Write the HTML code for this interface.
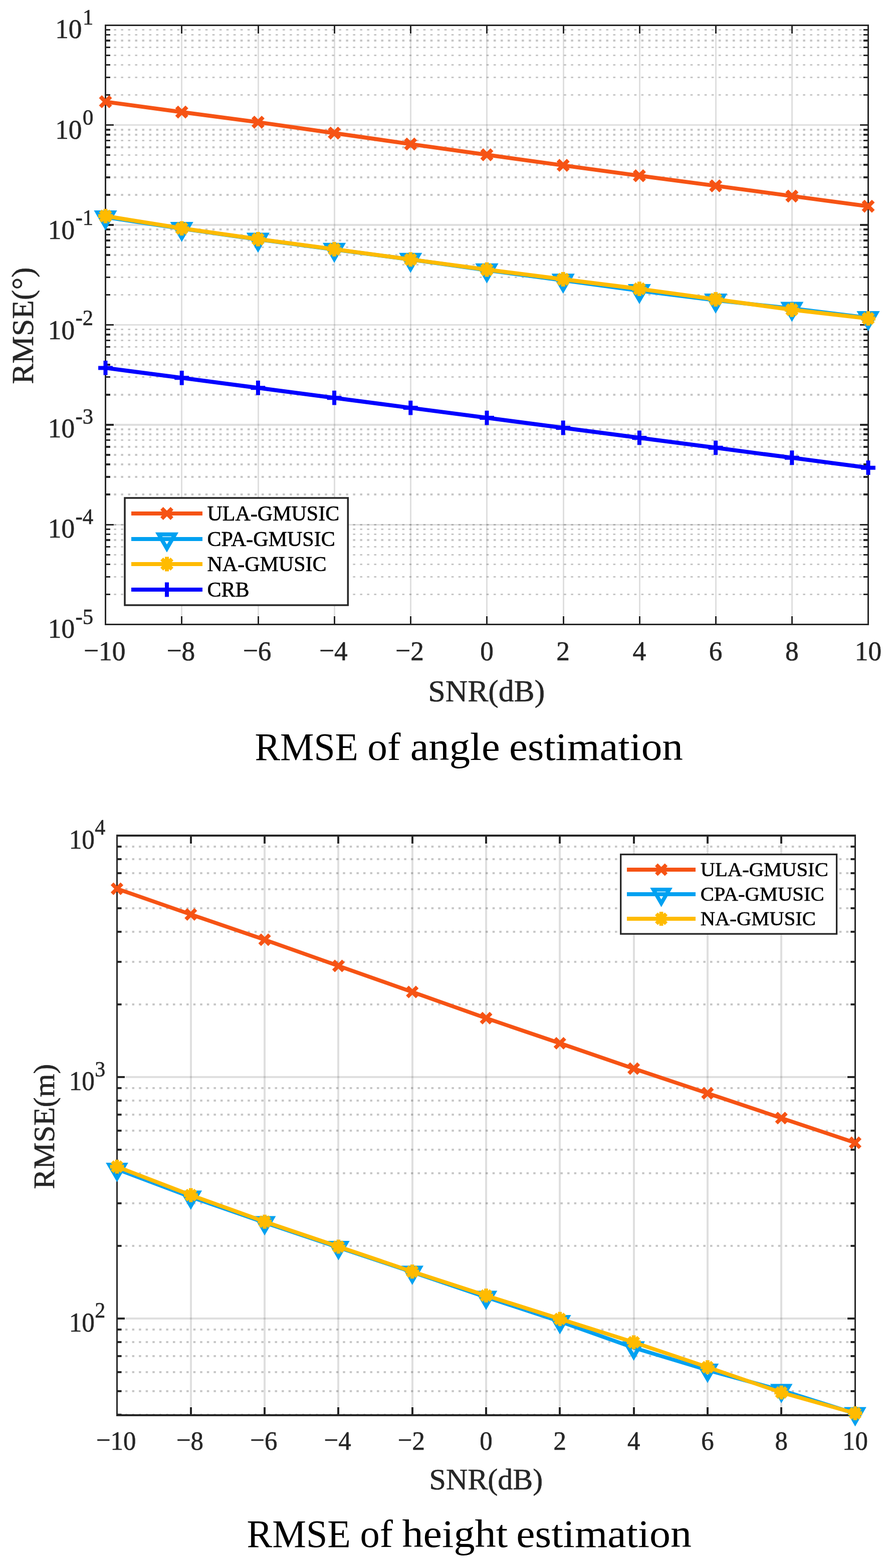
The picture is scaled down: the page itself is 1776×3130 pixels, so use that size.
<!DOCTYPE html>
<html lang="en"><head><meta charset="utf-8"><title>RMSE of angle and height estimation</title>
<style>html,body{margin:0;padding:0;background:#fff}body{width:1776px;height:3130px;overflow:hidden}svg{display:block}text{font-family:"Liberation Serif",serif;white-space:pre;stroke-width:0.6px;stroke-linejoin:round;paint-order:stroke}</style>
</head><body>
<svg width="1776" height="3130" viewBox="0 0 1776 3130" role="img" aria-label="RMSE of angle estimation and RMSE of height estimation versus SNR">
<rect width="1776" height="3130" fill="#fff"/>
<g id="fig1">
<g stroke="#262626" stroke-opacity="0.26" stroke-dasharray="4.6 9.43" stroke-dashoffset="-2.8" fill="none">
<path d="M210.5 59.5H1722" stroke-width="3"/>
<path d="M210.5 69.5H1722" stroke-width="3"/>
<path d="M210.5 81H1722" stroke-width="4"/>
<path d="M210.5 94.5H1722" stroke-width="3"/>
<path d="M210.5 110.5H1722" stroke-width="3"/>
<path d="M210.5 129.5H1722" stroke-width="3"/>
<path d="M210.5 154.5H1722" stroke-width="3"/>
<path d="M210.5 189.5H1722" stroke-width="3"/>
<path d="M210.5 259H1722" stroke-width="4"/>
<path d="M210.5 269H1722" stroke-width="4"/>
<path d="M210.5 280.5H1722" stroke-width="3"/>
<path d="M210.5 294H1722" stroke-width="4"/>
<path d="M210.5 309.5H1722" stroke-width="3"/>
<path d="M210.5 329H1722" stroke-width="4"/>
<path d="M210.5 354H1722" stroke-width="4"/>
<path d="M210.5 389H1722" stroke-width="4"/>
<path d="M210.5 458H1722" stroke-width="4"/>
<path d="M210.5 468.5H1722" stroke-width="3"/>
<path d="M210.5 480H1722" stroke-width="4"/>
<path d="M210.5 493.5H1722" stroke-width="3"/>
<path d="M210.5 509H1722" stroke-width="4"/>
<path d="M210.5 528.5H1722" stroke-width="3"/>
<path d="M210.5 553.5H1722" stroke-width="3"/>
<path d="M210.5 588.5H1722" stroke-width="3"/>
<path d="M210.5 657.5H1722" stroke-width="3"/>
<path d="M210.5 668H1722" stroke-width="4"/>
<path d="M210.5 679.5H1722" stroke-width="3"/>
<path d="M210.5 692.5H1722" stroke-width="3"/>
<path d="M210.5 708.5H1722" stroke-width="3"/>
<path d="M210.5 728H1722" stroke-width="4"/>
<path d="M210.5 752.5H1722" stroke-width="3"/>
<path d="M210.5 788H1722" stroke-width="4"/>
<path d="M210.5 857H1722" stroke-width="4"/>
<path d="M210.5 867H1722" stroke-width="4"/>
<path d="M210.5 878.5H1722" stroke-width="3"/>
<path d="M210.5 892H1722" stroke-width="4"/>
<path d="M210.5 908H1722" stroke-width="4"/>
<path d="M210.5 927H1722" stroke-width="4"/>
<path d="M210.5 952H1722" stroke-width="4"/>
<path d="M210.5 987H1722" stroke-width="4"/>
<path d="M210.5 1056.5H1722" stroke-width="3"/>
<path d="M210.5 1066.5H1722" stroke-width="3"/>
<path d="M210.5 1078H1722" stroke-width="4"/>
<path d="M210.5 1091.5H1722" stroke-width="3"/>
<path d="M210.5 1107.5H1722" stroke-width="3"/>
<path d="M210.5 1126.5H1722" stroke-width="3"/>
<path d="M210.5 1151.5H1722" stroke-width="3"/>
<path d="M210.5 1186.5H1722" stroke-width="3"/>
<path d="M210.5 1047.5H1722" stroke-width="3"/>
</g>
<g stroke="#262626" stroke-opacity="0.15" fill="none">
<path d="M362.5 68V1229" stroke-width="3"/>
<path d="M515.5 68V1229" stroke-width="3"/>
<path d="M667.5 68V1229" stroke-width="3"/>
<path d="M819.5 68V1229" stroke-width="3"/>
<path d="M971.5 68V1229" stroke-width="3"/>
<path d="M1124.5 68V1229" stroke-width="3"/>
<path d="M1276.5 68V1229" stroke-width="3"/>
<path d="M1428.5 68V1229" stroke-width="3"/>
<path d="M1580.5 68V1229" stroke-width="3"/>
<path d="M228 249.5H1715" stroke-width="3"/>
<path d="M228 449H1715" stroke-width="4"/>
<path d="M228 648.5H1715" stroke-width="3"/>
<path d="M228 848H1715" stroke-width="4"/>
<path d="M228 1047.5H1715" stroke-width="3"/>
</g>
<g stroke="#262626" fill="none">
<path d="M362.5 50.5V67M362.5 1246.5V1230" stroke-width="3"/>
<path d="M515.5 50.5V67M515.5 1246.5V1230" stroke-width="3"/>
<path d="M667.5 50.5V67M667.5 1246.5V1230" stroke-width="3"/>
<path d="M819.5 50.5V67M819.5 1246.5V1230" stroke-width="3"/>
<path d="M971.5 50.5V67M971.5 1246.5V1230" stroke-width="3"/>
<path d="M1124.5 50.5V67M1124.5 1246.5V1230" stroke-width="3"/>
<path d="M1276.5 50.5V67M1276.5 1246.5V1230" stroke-width="3"/>
<path d="M1428.5 50.5V67M1428.5 1246.5V1230" stroke-width="3"/>
<path d="M1580.5 50.5V67M1580.5 1246.5V1230" stroke-width="3"/>
<path d="M210.5 249.5H227M1732.5 249.5H1716" stroke-width="3"/>
<path d="M210.5 449H227M1732.5 449H1716" stroke-width="4"/>
<path d="M210.5 648.5H227M1732.5 648.5H1716" stroke-width="3"/>
<path d="M210.5 848H227M1732.5 848H1716" stroke-width="4"/>
<path d="M210.5 1047.5H227M1732.5 1047.5H1716" stroke-width="3"/>
<path d="M210.5 59.5H220M1732.5 59.5H1723" stroke-width="3"/>
<path d="M210.5 69.5H220M1732.5 69.5H1723" stroke-width="3"/>
<path d="M210.5 81H220M1732.5 81H1723" stroke-width="4"/>
<path d="M210.5 94.5H220M1732.5 94.5H1723" stroke-width="3"/>
<path d="M210.5 110.5H220M1732.5 110.5H1723" stroke-width="3"/>
<path d="M210.5 129.5H220M1732.5 129.5H1723" stroke-width="3"/>
<path d="M210.5 154.5H220M1732.5 154.5H1723" stroke-width="3"/>
<path d="M210.5 189.5H220M1732.5 189.5H1723" stroke-width="3"/>
<path d="M210.5 259H220M1732.5 259H1723" stroke-width="4"/>
<path d="M210.5 269H220M1732.5 269H1723" stroke-width="4"/>
<path d="M210.5 280.5H220M1732.5 280.5H1723" stroke-width="3"/>
<path d="M210.5 294H220M1732.5 294H1723" stroke-width="4"/>
<path d="M210.5 309.5H220M1732.5 309.5H1723" stroke-width="3"/>
<path d="M210.5 329H220M1732.5 329H1723" stroke-width="4"/>
<path d="M210.5 354H220M1732.5 354H1723" stroke-width="4"/>
<path d="M210.5 389H220M1732.5 389H1723" stroke-width="4"/>
<path d="M210.5 458H220M1732.5 458H1723" stroke-width="4"/>
<path d="M210.5 468.5H220M1732.5 468.5H1723" stroke-width="3"/>
<path d="M210.5 480H220M1732.5 480H1723" stroke-width="4"/>
<path d="M210.5 493.5H220M1732.5 493.5H1723" stroke-width="3"/>
<path d="M210.5 509H220M1732.5 509H1723" stroke-width="4"/>
<path d="M210.5 528.5H220M1732.5 528.5H1723" stroke-width="3"/>
<path d="M210.5 553.5H220M1732.5 553.5H1723" stroke-width="3"/>
<path d="M210.5 588.5H220M1732.5 588.5H1723" stroke-width="3"/>
<path d="M210.5 657.5H220M1732.5 657.5H1723" stroke-width="3"/>
<path d="M210.5 668H220M1732.5 668H1723" stroke-width="4"/>
<path d="M210.5 679.5H220M1732.5 679.5H1723" stroke-width="3"/>
<path d="M210.5 692.5H220M1732.5 692.5H1723" stroke-width="3"/>
<path d="M210.5 708.5H220M1732.5 708.5H1723" stroke-width="3"/>
<path d="M210.5 728H220M1732.5 728H1723" stroke-width="4"/>
<path d="M210.5 752.5H220M1732.5 752.5H1723" stroke-width="3"/>
<path d="M210.5 788H220M1732.5 788H1723" stroke-width="4"/>
<path d="M210.5 857H220M1732.5 857H1723" stroke-width="4"/>
<path d="M210.5 867H220M1732.5 867H1723" stroke-width="4"/>
<path d="M210.5 878.5H220M1732.5 878.5H1723" stroke-width="3"/>
<path d="M210.5 892H220M1732.5 892H1723" stroke-width="4"/>
<path d="M210.5 908H220M1732.5 908H1723" stroke-width="4"/>
<path d="M210.5 927H220M1732.5 927H1723" stroke-width="4"/>
<path d="M210.5 952H220M1732.5 952H1723" stroke-width="4"/>
<path d="M210.5 987H220M1732.5 987H1723" stroke-width="4"/>
<path d="M210.5 1056.5H220M1732.5 1056.5H1723" stroke-width="3"/>
<path d="M210.5 1066.5H220M1732.5 1066.5H1723" stroke-width="3"/>
<path d="M210.5 1078H220M1732.5 1078H1723" stroke-width="4"/>
<path d="M210.5 1091.5H220M1732.5 1091.5H1723" stroke-width="3"/>
<path d="M210.5 1107.5H220M1732.5 1107.5H1723" stroke-width="3"/>
<path d="M210.5 1126.5H220M1732.5 1126.5H1723" stroke-width="3"/>
<path d="M210.5 1151.5H220M1732.5 1151.5H1723" stroke-width="3"/>
<path d="M210.5 1186.5H220M1732.5 1186.5H1723" stroke-width="3"/>
<path d="M210.5 49V1248M1732.5 49V1248" stroke-width="3"/>
<path d="M209 50.5H1734M209 1246.5H1734" stroke-width="3"/>
</g>
<polyline points="210.5,203.1 362.7,223.7 514.9,243.9 667.1,265.7 819.3,287.6 971.5,309 1123.7,330.1 1275.9,350.8 1428.1,370.9 1580.3,391.4 1732.5,411.7" stroke="#F65314" stroke-width="8" fill="none" stroke-linejoin="round"/>
<path d="M200.32 192.92L220.68 213.28M200.32 213.28L220.68 192.92" stroke="#F65314" stroke-width="8" fill="none"/>
<path d="M352.52 213.52L372.88 233.88M352.52 233.88L372.88 213.52" stroke="#F65314" stroke-width="8" fill="none"/>
<path d="M504.72 233.72L525.08 254.08M504.72 254.08L525.08 233.72" stroke="#F65314" stroke-width="8" fill="none"/>
<path d="M656.92 255.52L677.28 275.88M656.92 275.88L677.28 255.52" stroke="#F65314" stroke-width="8" fill="none"/>
<path d="M809.12 277.42L829.48 297.78M809.12 297.78L829.48 277.42" stroke="#F65314" stroke-width="8" fill="none"/>
<path d="M961.32 298.82L981.68 319.18M961.32 319.18L981.68 298.82" stroke="#F65314" stroke-width="8" fill="none"/>
<path d="M1113.52 319.92L1133.88 340.28M1113.52 340.28L1133.88 319.92" stroke="#F65314" stroke-width="8" fill="none"/>
<path d="M1265.72 340.62L1286.08 360.98M1265.72 360.98L1286.08 340.62" stroke="#F65314" stroke-width="8" fill="none"/>
<path d="M1417.92 360.72L1438.28 381.08M1417.92 381.08L1438.28 360.72" stroke="#F65314" stroke-width="8" fill="none"/>
<path d="M1570.12 381.22L1590.48 401.58M1570.12 401.58L1590.48 381.22" stroke="#F65314" stroke-width="8" fill="none"/>
<path d="M1722.32 401.52L1742.68 421.88M1722.32 421.88L1742.68 401.52" stroke="#F65314" stroke-width="8" fill="none"/>
<polyline points="210.5,433.3 362.7,456.4 514.9,477.8 667.1,498 819.3,518 971.5,539.2 1123.7,559.5 1275.9,580.3 1428.1,599.4 1580.3,615.8 1732.5,634.4" stroke="#00A1F1" stroke-width="8" fill="none" stroke-linejoin="round"/>
<path d="M194.33 423.97L226.67 423.97L210.5 451.97Z" stroke="#00A1F1" stroke-width="8" fill="none" stroke-linejoin="miter"/>
<path d="M346.53 447.07L378.87 447.07L362.7 475.07Z" stroke="#00A1F1" stroke-width="8" fill="none" stroke-linejoin="miter"/>
<path d="M498.73 468.47L531.07 468.47L514.9 496.47Z" stroke="#00A1F1" stroke-width="8" fill="none" stroke-linejoin="miter"/>
<path d="M650.93 488.67L683.27 488.67L667.1 516.67Z" stroke="#00A1F1" stroke-width="8" fill="none" stroke-linejoin="miter"/>
<path d="M803.13 508.67L835.47 508.67L819.3 536.67Z" stroke="#00A1F1" stroke-width="8" fill="none" stroke-linejoin="miter"/>
<path d="M955.33 529.87L987.67 529.87L971.5 557.87Z" stroke="#00A1F1" stroke-width="8" fill="none" stroke-linejoin="miter"/>
<path d="M1107.53 550.17L1139.87 550.17L1123.7 578.17Z" stroke="#00A1F1" stroke-width="8" fill="none" stroke-linejoin="miter"/>
<path d="M1259.73 570.97L1292.07 570.97L1275.9 598.97Z" stroke="#00A1F1" stroke-width="8" fill="none" stroke-linejoin="miter"/>
<path d="M1411.93 590.07L1444.27 590.07L1428.1 618.07Z" stroke="#00A1F1" stroke-width="8" fill="none" stroke-linejoin="miter"/>
<path d="M1564.13 606.47L1596.47 606.47L1580.3 634.47Z" stroke="#00A1F1" stroke-width="8" fill="none" stroke-linejoin="miter"/>
<path d="M1716.33 625.07L1748.67 625.07L1732.5 653.07Z" stroke="#00A1F1" stroke-width="8" fill="none" stroke-linejoin="miter"/>
<polyline points="210.5,431.3 362.7,455.8 514.9,477.3 667.1,497.5 819.3,517.9 971.5,538.2 1123.7,557.5 1275.9,576.6 1428.1,597.5 1580.3,618.3 1732.5,635.7" stroke="#FFBB00" stroke-width="8" fill="none" stroke-linejoin="round"/>
<path d="M196.1 431.3L224.9 431.3M210.5 416.9L210.5 445.7M200.32 421.12L220.68 441.48M200.32 441.48L220.68 421.12" stroke="#FFBB00" stroke-width="8" fill="none"/>
<path d="M348.3 455.8L377.1 455.8M362.7 441.4L362.7 470.2M352.52 445.62L372.88 465.98M352.52 465.98L372.88 445.62" stroke="#FFBB00" stroke-width="8" fill="none"/>
<path d="M500.5 477.3L529.3 477.3M514.9 462.9L514.9 491.7M504.72 467.12L525.08 487.48M504.72 487.48L525.08 467.12" stroke="#FFBB00" stroke-width="8" fill="none"/>
<path d="M652.7 497.5L681.5 497.5M667.1 483.1L667.1 511.9M656.92 487.32L677.28 507.68M656.92 507.68L677.28 487.32" stroke="#FFBB00" stroke-width="8" fill="none"/>
<path d="M804.9 517.9L833.7 517.9M819.3 503.5L819.3 532.3M809.12 507.72L829.48 528.08M809.12 528.08L829.48 507.72" stroke="#FFBB00" stroke-width="8" fill="none"/>
<path d="M957.1 538.2L985.9 538.2M971.5 523.8L971.5 552.6M961.32 528.02L981.68 548.38M961.32 548.38L981.68 528.02" stroke="#FFBB00" stroke-width="8" fill="none"/>
<path d="M1109.3 557.5L1138.1 557.5M1123.7 543.1L1123.7 571.9M1113.52 547.32L1133.88 567.68M1113.52 567.68L1133.88 547.32" stroke="#FFBB00" stroke-width="8" fill="none"/>
<path d="M1261.5 576.6L1290.3 576.6M1275.9 562.2L1275.9 591M1265.72 566.42L1286.08 586.78M1265.72 586.78L1286.08 566.42" stroke="#FFBB00" stroke-width="8" fill="none"/>
<path d="M1413.7 597.5L1442.5 597.5M1428.1 583.1L1428.1 611.9M1417.92 587.32L1438.28 607.68M1417.92 607.68L1438.28 587.32" stroke="#FFBB00" stroke-width="8" fill="none"/>
<path d="M1565.9 618.3L1594.7 618.3M1580.3 603.9L1580.3 632.7M1570.12 608.12L1590.48 628.48M1570.12 628.48L1590.48 608.12" stroke="#FFBB00" stroke-width="8" fill="none"/>
<path d="M1718.1 635.7L1746.9 635.7M1732.5 621.3L1732.5 650.1M1722.32 625.52L1742.68 645.88M1722.32 645.88L1742.68 625.52" stroke="#FFBB00" stroke-width="8" fill="none"/>
<polyline points="210.5,734.4 362.7,754.33 514.9,774.26 667.1,794.19 819.3,814.12 971.5,834.05 1123.7,853.98 1275.9,873.91 1428.1,893.84 1580.3,913.77 1732.5,933.7" stroke="#0000FF" stroke-width="8" fill="none" stroke-linejoin="round"/>
<path d="M196.1 734.4L224.9 734.4M210.5 720L210.5 748.8" stroke="#0000FF" stroke-width="8" fill="none"/>
<path d="M348.3 754.33L377.1 754.33M362.7 739.93L362.7 768.73" stroke="#0000FF" stroke-width="8" fill="none"/>
<path d="M500.5 774.26L529.3 774.26M514.9 759.86L514.9 788.66" stroke="#0000FF" stroke-width="8" fill="none"/>
<path d="M652.7 794.19L681.5 794.19M667.1 779.79L667.1 808.59" stroke="#0000FF" stroke-width="8" fill="none"/>
<path d="M804.9 814.12L833.7 814.12M819.3 799.72L819.3 828.52" stroke="#0000FF" stroke-width="8" fill="none"/>
<path d="M957.1 834.05L985.9 834.05M971.5 819.65L971.5 848.45" stroke="#0000FF" stroke-width="8" fill="none"/>
<path d="M1109.3 853.98L1138.1 853.98M1123.7 839.58L1123.7 868.38" stroke="#0000FF" stroke-width="8" fill="none"/>
<path d="M1261.5 873.91L1290.3 873.91M1275.9 859.51L1275.9 888.31" stroke="#0000FF" stroke-width="8" fill="none"/>
<path d="M1413.7 893.84L1442.5 893.84M1428.1 879.44L1428.1 908.24" stroke="#0000FF" stroke-width="8" fill="none"/>
<path d="M1565.9 913.77L1594.7 913.77M1580.3 899.37L1580.3 928.17" stroke="#0000FF" stroke-width="8" fill="none"/>
<path d="M1718.1 933.7L1746.9 933.7M1732.5 919.3L1732.5 948.1" stroke="#0000FF" stroke-width="8" fill="none"/>
<rect x="249" y="994" width="445.3" height="214" fill="#fff" stroke="#262626" stroke-width="3.5"/>
<path d="M262 1025H404" stroke="#F65314" stroke-width="8" fill="none"/>
<path d="M322.82 1014.82L343.18 1035.18M322.82 1035.18L343.18 1014.82" stroke="#F65314" stroke-width="8" fill="none"/>
<text x="413.5" y="1038.5" font-size="42" fill="#000" stroke="#000" stroke-width="1.1">ULA-GMUSIC</text>
<path d="M262 1076H404" stroke="#00A1F1" stroke-width="8" fill="none"/>
<path d="M316.83 1066.67L349.17 1066.67L333 1094.67Z" stroke="#00A1F1" stroke-width="8" fill="none" stroke-linejoin="miter"/>
<text x="413.5" y="1089.5" font-size="42" fill="#000" stroke="#000" stroke-width="1.1">CPA-GMUSIC</text>
<path d="M262 1126H404" stroke="#FFBB00" stroke-width="8" fill="none"/>
<path d="M318.6 1126L347.4 1126M333 1111.6L333 1140.4M322.82 1115.82L343.18 1136.18M322.82 1136.18L343.18 1115.82" stroke="#FFBB00" stroke-width="8" fill="none"/>
<text x="413.5" y="1139.5" font-size="42" fill="#000" stroke="#000" stroke-width="1.1">NA-GMUSIC</text>
<path d="M262 1177H404" stroke="#0000FF" stroke-width="8" fill="none"/>
<path d="M318.6 1177L347.4 1177M333 1162.6L333 1191.4" stroke="#0000FF" stroke-width="8" fill="none"/>
<text x="413.5" y="1190.5" font-size="42" fill="#000" stroke="#000" stroke-width="1.1">CRB</text>
<text transform="translate(163.5 76.4) scale(0.97 1)" font-size="55" text-anchor="end" fill="#262626" stroke="#262626" stroke-width="1.5">10</text>
<text transform="translate(164.9 49) scale(0.95 1)" font-size="45" fill="#262626" stroke="#262626" stroke-width="1.3">1</text>
<text transform="translate(163.5 276.5) scale(0.97 1)" font-size="55" text-anchor="end" fill="#262626" stroke="#262626" stroke-width="1.5">10</text>
<text transform="translate(164.9 249.1) scale(0.95 1)" font-size="45" fill="#262626" stroke="#262626" stroke-width="1.3">0</text>
<text transform="translate(149.2 476.5) scale(0.97 1)" font-size="55" text-anchor="end" fill="#262626" stroke="#262626" stroke-width="1.5">10</text>
<text transform="translate(150.6 449.1) scale(0.95 1)" font-size="45" fill="#262626" stroke="#262626" stroke-width="1.3">-1</text>
<text transform="translate(149.2 676.5) scale(0.97 1)" font-size="55" text-anchor="end" fill="#262626" stroke="#262626" stroke-width="1.5">10</text>
<text transform="translate(150.6 649.1) scale(0.95 1)" font-size="45" fill="#262626" stroke="#262626" stroke-width="1.3">-2</text>
<text transform="translate(149.2 873.2) scale(0.97 1)" font-size="55" text-anchor="end" fill="#262626" stroke="#262626" stroke-width="1.5">10</text>
<text transform="translate(150.6 845.8) scale(0.95 1)" font-size="45" fill="#262626" stroke="#262626" stroke-width="1.3">-3</text>
<text transform="translate(149.2 1073.2) scale(0.97 1)" font-size="55" text-anchor="end" fill="#262626" stroke="#262626" stroke-width="1.5">10</text>
<text transform="translate(150.6 1045.8) scale(0.95 1)" font-size="45" fill="#262626" stroke="#262626" stroke-width="1.3">-4</text>
<text transform="translate(149.2 1273.1) scale(0.97 1)" font-size="55" text-anchor="end" fill="#262626" stroke="#262626" stroke-width="1.5">10</text>
<text transform="translate(150.6 1245.7) scale(0.95 1)" font-size="45" fill="#262626" stroke="#262626" stroke-width="1.3">-5</text>
<text transform="translate(208.7 1318.2) scale(0.97 1)" font-size="55" text-anchor="middle" fill="#262626" stroke="#262626" stroke-width="1.5"><tspan dy="-1.6">−</tspan><tspan dy="1.6">10</tspan></text>
<text transform="translate(360.9 1318.2) scale(0.97 1)" font-size="55" text-anchor="middle" fill="#262626" stroke="#262626" stroke-width="1.5"><tspan dy="-1.6">−</tspan><tspan dy="1.6">8</tspan></text>
<text transform="translate(513.1 1318.2) scale(0.97 1)" font-size="55" text-anchor="middle" fill="#262626" stroke="#262626" stroke-width="1.5"><tspan dy="-1.6">−</tspan><tspan dy="1.6">6</tspan></text>
<text transform="translate(665.3 1318.2) scale(0.97 1)" font-size="55" text-anchor="middle" fill="#262626" stroke="#262626" stroke-width="1.5"><tspan dy="-1.6">−</tspan><tspan dy="1.6">4</tspan></text>
<text transform="translate(817.5 1318.2) scale(0.97 1)" font-size="55" text-anchor="middle" fill="#262626" stroke="#262626" stroke-width="1.5"><tspan dy="-1.6">−</tspan><tspan dy="1.6">2</tspan></text>
<text transform="translate(971.5 1318.2) scale(0.97 1)" font-size="55" text-anchor="middle" fill="#262626" stroke="#262626" stroke-width="1.5">0</text>
<text transform="translate(1123.7 1318.2) scale(0.97 1)" font-size="55" text-anchor="middle" fill="#262626" stroke="#262626" stroke-width="1.5">2</text>
<text transform="translate(1275.9 1318.2) scale(0.97 1)" font-size="55" text-anchor="middle" fill="#262626" stroke="#262626" stroke-width="1.5">4</text>
<text transform="translate(1428.1 1318.2) scale(0.97 1)" font-size="55" text-anchor="middle" fill="#262626" stroke="#262626" stroke-width="1.5">6</text>
<text transform="translate(1580.3 1318.2) scale(0.97 1)" font-size="55" text-anchor="middle" fill="#262626" stroke="#262626" stroke-width="1.5">8</text>
<text transform="translate(1732.5 1318.2) scale(0.97 1)" font-size="55" text-anchor="middle" fill="#262626" stroke="#262626" stroke-width="1.5">10</text>
<text x="970.8" y="1400.3" font-size="61.6" text-anchor="middle" fill="#262626" stroke="#262626" stroke-width="1.5">SNR(dB)</text>
<text transform="translate(65.7 650.1) rotate(-90)" font-size="61.6" text-anchor="middle" fill="#262626" stroke="#262626" stroke-width="1.5">RMSE(°)</text>
<text y="1516.6" font-size="79" fill="#000" stroke="none"><tspan x="508.4" textLength="206.5" lengthAdjust="spacingAndGlyphs">RMSE</tspan><tspan x="733.3" textLength="66.1" lengthAdjust="spacingAndGlyphs">of</tspan><tspan x="818.7" textLength="178.9" lengthAdjust="spacingAndGlyphs">angle</tspan><tspan x="1016.1" textLength="346.9" lengthAdjust="spacingAndGlyphs">estimation</tspan></text>
</g>
<g id="fig2">
<g stroke="#262626" stroke-opacity="0.26" stroke-dasharray="4.5 9.07" stroke-dashoffset="-2.93" fill="none">
<path d="M233.5 1690H1696.4" stroke-width="4"/>
<path d="M233.5 1715H1696.4" stroke-width="4"/>
<path d="M233.5 1743H1696.4" stroke-width="4"/>
<path d="M233.5 1775H1696.4" stroke-width="4"/>
<path d="M233.5 1813H1696.4" stroke-width="4"/>
<path d="M233.5 1860H1696.4" stroke-width="4"/>
<path d="M233.5 1920H1696.4" stroke-width="4"/>
<path d="M233.5 2005H1696.4" stroke-width="4"/>
<path d="M233.5 2172H1696.4" stroke-width="4"/>
<path d="M233.5 2197H1696.4" stroke-width="4"/>
<path d="M233.5 2225H1696.4" stroke-width="4"/>
<path d="M233.5 2257H1696.4" stroke-width="4"/>
<path d="M233.5 2295H1696.4" stroke-width="4"/>
<path d="M233.5 2342H1696.4" stroke-width="4"/>
<path d="M233.5 2402H1696.4" stroke-width="4"/>
<path d="M233.5 2487H1696.4" stroke-width="4"/>
<path d="M233.5 2654H1696.4" stroke-width="4"/>
<path d="M233.5 2679H1696.4" stroke-width="4"/>
<path d="M233.5 2707H1696.4" stroke-width="4"/>
<path d="M233.5 2739H1696.4" stroke-width="4"/>
<path d="M233.5 2777H1696.4" stroke-width="4"/>
<path d="M233.5 2824H1696.4" stroke-width="4"/>
</g>
<g stroke="#262626" stroke-opacity="0.15" fill="none">
<path d="M381 1685V2808" stroke-width="4"/>
<path d="M528 1685V2808" stroke-width="4"/>
<path d="M675 1685V2808" stroke-width="4"/>
<path d="M823 1685V2808" stroke-width="4"/>
<path d="M970 1685V2808" stroke-width="4"/>
<path d="M1117 1685V2808" stroke-width="4"/>
<path d="M1265 1685V2808" stroke-width="4"/>
<path d="M1412 1685V2808" stroke-width="4"/>
<path d="M1559 1685V2808" stroke-width="4"/>
<path d="M250 2150H1690" stroke-width="4"/>
<path d="M250 2632H1690" stroke-width="4"/>
</g>
<g stroke="#262626" fill="none">
<path d="M381 1668V1684M381 2825V2809" stroke-width="4"/>
<path d="M528 1668V1684M528 2825V2809" stroke-width="4"/>
<path d="M675 1668V1684M675 2825V2809" stroke-width="4"/>
<path d="M823 1668V1684M823 2825V2809" stroke-width="4"/>
<path d="M970 1668V1684M970 2825V2809" stroke-width="4"/>
<path d="M1117 1668V1684M1117 2825V2809" stroke-width="4"/>
<path d="M1265 1668V1684M1265 2825V2809" stroke-width="4"/>
<path d="M1412 1668V1684M1412 2825V2809" stroke-width="4"/>
<path d="M1559 1668V1684M1559 2825V2809" stroke-width="4"/>
<path d="M233.5 2150H249M1706.5 2150H1691" stroke-width="4"/>
<path d="M233.5 2632H249M1706.5 2632H1691" stroke-width="4"/>
<path d="M233.5 1690H242.6M1706.5 1690H1697.4" stroke-width="4"/>
<path d="M233.5 1715H242.6M1706.5 1715H1697.4" stroke-width="4"/>
<path d="M233.5 1743H242.6M1706.5 1743H1697.4" stroke-width="4"/>
<path d="M233.5 1775H242.6M1706.5 1775H1697.4" stroke-width="4"/>
<path d="M233.5 1813H242.6M1706.5 1813H1697.4" stroke-width="4"/>
<path d="M233.5 1860H242.6M1706.5 1860H1697.4" stroke-width="4"/>
<path d="M233.5 1920H242.6M1706.5 1920H1697.4" stroke-width="4"/>
<path d="M233.5 2005H242.6M1706.5 2005H1697.4" stroke-width="4"/>
<path d="M233.5 2172H242.6M1706.5 2172H1697.4" stroke-width="4"/>
<path d="M233.5 2197H242.6M1706.5 2197H1697.4" stroke-width="4"/>
<path d="M233.5 2225H242.6M1706.5 2225H1697.4" stroke-width="4"/>
<path d="M233.5 2257H242.6M1706.5 2257H1697.4" stroke-width="4"/>
<path d="M233.5 2295H242.6M1706.5 2295H1697.4" stroke-width="4"/>
<path d="M233.5 2342H242.6M1706.5 2342H1697.4" stroke-width="4"/>
<path d="M233.5 2402H242.6M1706.5 2402H1697.4" stroke-width="4"/>
<path d="M233.5 2487H242.6M1706.5 2487H1697.4" stroke-width="4"/>
<path d="M233.5 2654H242.6M1706.5 2654H1697.4" stroke-width="4"/>
<path d="M233.5 2679H242.6M1706.5 2679H1697.4" stroke-width="4"/>
<path d="M233.5 2707H242.6M1706.5 2707H1697.4" stroke-width="4"/>
<path d="M233.5 2739H242.6M1706.5 2739H1697.4" stroke-width="4"/>
<path d="M233.5 2777H242.6M1706.5 2777H1697.4" stroke-width="4"/>
<path d="M233.5 2824H242.6M1706.5 2824H1697.4" stroke-width="4"/>
<path d="M233.5 1666V2827M1706.5 1666V2827" stroke-width="3"/>
<path d="M232 1668H1708M232 2825H1708" stroke-width="4"/>
</g>
<polyline points="233.5,1774.1 380.8,1825.3 528.1,1875.8 675.4,1928.1 822.7,1980.1 970,2032.4 1117.3,2082.5 1264.6,2133.1 1411.9,2182.3 1559.2,2231.85 1706.5,2281.2" stroke="#F65314" stroke-width="7.74" fill="none" stroke-linejoin="round"/>
<path d="M223.65 1764.25L243.35 1783.95M223.65 1783.95L243.35 1764.25" stroke="#F65314" stroke-width="7.74" fill="none"/>
<path d="M370.95 1815.45L390.65 1835.15M370.95 1835.15L390.65 1815.45" stroke="#F65314" stroke-width="7.74" fill="none"/>
<path d="M518.25 1865.95L537.95 1885.65M518.25 1885.65L537.95 1865.95" stroke="#F65314" stroke-width="7.74" fill="none"/>
<path d="M665.55 1918.25L685.25 1937.95M665.55 1937.95L685.25 1918.25" stroke="#F65314" stroke-width="7.74" fill="none"/>
<path d="M812.85 1970.25L832.55 1989.95M812.85 1989.95L832.55 1970.25" stroke="#F65314" stroke-width="7.74" fill="none"/>
<path d="M960.15 2022.55L979.85 2042.25M960.15 2042.25L979.85 2022.55" stroke="#F65314" stroke-width="7.74" fill="none"/>
<path d="M1107.45 2072.65L1127.15 2092.35M1107.45 2092.35L1127.15 2072.65" stroke="#F65314" stroke-width="7.74" fill="none"/>
<path d="M1254.75 2123.25L1274.45 2142.95M1254.75 2142.95L1274.45 2123.25" stroke="#F65314" stroke-width="7.74" fill="none"/>
<path d="M1402.05 2172.45L1421.75 2192.15M1402.05 2192.15L1421.75 2172.45" stroke="#F65314" stroke-width="7.74" fill="none"/>
<path d="M1549.35 2222L1569.05 2241.7M1549.35 2241.7L1569.05 2222" stroke="#F65314" stroke-width="7.74" fill="none"/>
<path d="M1696.65 2271.35L1716.35 2291.05M1696.65 2291.05L1716.35 2271.35" stroke="#F65314" stroke-width="7.74" fill="none"/>
<polyline points="233.5,2334 380.8,2389.3 528.1,2440.5 675.4,2490 822.7,2539.3 970,2589.3 1117.3,2637.8 1264.6,2690.4 1411.9,2734.9 1559.2,2775.3 1706.5,2821.6" stroke="#00A1F1" stroke-width="7.74" fill="none" stroke-linejoin="round"/>
<path d="M217.86 2324.97L249.14 2324.97L233.5 2352.06Z" stroke="#00A1F1" stroke-width="7.74" fill="none" stroke-linejoin="miter"/>
<path d="M365.16 2380.27L396.44 2380.27L380.8 2407.36Z" stroke="#00A1F1" stroke-width="7.74" fill="none" stroke-linejoin="miter"/>
<path d="M512.46 2431.47L543.74 2431.47L528.1 2458.56Z" stroke="#00A1F1" stroke-width="7.74" fill="none" stroke-linejoin="miter"/>
<path d="M659.76 2480.97L691.04 2480.97L675.4 2508.06Z" stroke="#00A1F1" stroke-width="7.74" fill="none" stroke-linejoin="miter"/>
<path d="M807.06 2530.27L838.34 2530.27L822.7 2557.36Z" stroke="#00A1F1" stroke-width="7.74" fill="none" stroke-linejoin="miter"/>
<path d="M954.36 2580.27L985.64 2580.27L970 2607.36Z" stroke="#00A1F1" stroke-width="7.74" fill="none" stroke-linejoin="miter"/>
<path d="M1101.66 2628.77L1132.94 2628.77L1117.3 2655.86Z" stroke="#00A1F1" stroke-width="7.74" fill="none" stroke-linejoin="miter"/>
<path d="M1248.96 2681.37L1280.24 2681.37L1264.6 2708.46Z" stroke="#00A1F1" stroke-width="7.74" fill="none" stroke-linejoin="miter"/>
<path d="M1396.26 2725.87L1427.54 2725.87L1411.9 2752.96Z" stroke="#00A1F1" stroke-width="7.74" fill="none" stroke-linejoin="miter"/>
<path d="M1543.56 2766.27L1574.84 2766.27L1559.2 2793.36Z" stroke="#00A1F1" stroke-width="7.74" fill="none" stroke-linejoin="miter"/>
<path d="M1690.86 2812.57L1722.14 2812.57L1706.5 2839.66Z" stroke="#00A1F1" stroke-width="7.74" fill="none" stroke-linejoin="miter"/>
<polyline points="233.5,2328.9 380.8,2385.7 528.1,2438.7 675.4,2488.5 822.7,2538.3 970,2586.1 1117.3,2632.8 1264.6,2679.4 1411.9,2729.1 1559.2,2779.6 1706.5,2821.1" stroke="#FFBB00" stroke-width="7.74" fill="none" stroke-linejoin="round"/>
<path d="M219.57 2328.9L247.43 2328.9M233.5 2314.97L233.5 2342.83M223.65 2319.05L243.35 2338.75M223.65 2338.75L243.35 2319.05" stroke="#FFBB00" stroke-width="7.74" fill="none"/>
<path d="M366.87 2385.7L394.73 2385.7M380.8 2371.77L380.8 2399.63M370.95 2375.85L390.65 2395.55M370.95 2395.55L390.65 2375.85" stroke="#FFBB00" stroke-width="7.74" fill="none"/>
<path d="M514.17 2438.7L542.03 2438.7M528.1 2424.77L528.1 2452.63M518.25 2428.85L537.95 2448.55M518.25 2448.55L537.95 2428.85" stroke="#FFBB00" stroke-width="7.74" fill="none"/>
<path d="M661.47 2488.5L689.33 2488.5M675.4 2474.57L675.4 2502.43M665.55 2478.65L685.25 2498.35M665.55 2498.35L685.25 2478.65" stroke="#FFBB00" stroke-width="7.74" fill="none"/>
<path d="M808.77 2538.3L836.63 2538.3M822.7 2524.37L822.7 2552.23M812.85 2528.45L832.55 2548.15M812.85 2548.15L832.55 2528.45" stroke="#FFBB00" stroke-width="7.74" fill="none"/>
<path d="M956.07 2586.1L983.93 2586.1M970 2572.17L970 2600.03M960.15 2576.25L979.85 2595.95M960.15 2595.95L979.85 2576.25" stroke="#FFBB00" stroke-width="7.74" fill="none"/>
<path d="M1103.37 2632.8L1131.23 2632.8M1117.3 2618.87L1117.3 2646.73M1107.45 2622.95L1127.15 2642.65M1107.45 2642.65L1127.15 2622.95" stroke="#FFBB00" stroke-width="7.74" fill="none"/>
<path d="M1250.67 2679.4L1278.53 2679.4M1264.6 2665.47L1264.6 2693.33M1254.75 2669.55L1274.45 2689.25M1254.75 2689.25L1274.45 2669.55" stroke="#FFBB00" stroke-width="7.74" fill="none"/>
<path d="M1397.97 2729.1L1425.83 2729.1M1411.9 2715.17L1411.9 2743.03M1402.05 2719.25L1421.75 2738.95M1402.05 2738.95L1421.75 2719.25" stroke="#FFBB00" stroke-width="7.74" fill="none"/>
<path d="M1545.27 2779.6L1573.13 2779.6M1559.2 2765.67L1559.2 2793.53M1549.35 2769.75L1569.05 2789.45M1549.35 2789.45L1569.05 2769.75" stroke="#FFBB00" stroke-width="7.74" fill="none"/>
<path d="M1692.57 2821.1L1720.43 2821.1M1706.5 2807.17L1706.5 2835.03M1696.65 2811.25L1716.35 2830.95M1696.65 2830.95L1716.35 2811.25" stroke="#FFBB00" stroke-width="7.74" fill="none"/>
<rect x="1238.7" y="1705.6" width="430.9" height="158.6" fill="#fff" stroke="#262626" stroke-width="3.3"/>
<path d="M1251 1736H1388" stroke="#F65314" stroke-width="8" fill="none"/>
<path d="M1309.75 1726.15L1329.45 1745.85M1309.75 1745.85L1329.45 1726.15" stroke="#F65314" stroke-width="7.74" fill="none"/>
<text x="1397.7" y="1748.6" font-size="40.63" fill="#000" stroke="#000" stroke-width="1.1">ULA-GMUSIC</text>
<path d="M1251 1785H1388" stroke="#00A1F1" stroke-width="8" fill="none"/>
<path d="M1303.96 1775.97L1335.24 1775.97L1319.6 1803.06Z" stroke="#00A1F1" stroke-width="7.74" fill="none" stroke-linejoin="miter"/>
<text x="1397.7" y="1797.6" font-size="40.63" fill="#000" stroke="#000" stroke-width="1.1">CPA-GMUSIC</text>
<path d="M1251 1834H1388" stroke="#FFBB00" stroke-width="8" fill="none"/>
<path d="M1305.67 1834L1333.53 1834M1319.6 1820.07L1319.6 1847.93M1309.75 1824.15L1329.45 1843.85M1309.75 1843.85L1329.45 1824.15" stroke="#FFBB00" stroke-width="7.74" fill="none"/>
<text x="1397.7" y="1846.6" font-size="40.63" fill="#000" stroke="#000" stroke-width="1.1">NA-GMUSIC</text>
<text transform="translate(188.9 1693.8) scale(0.94 1)" font-size="54.5" text-anchor="end" fill="#262626" stroke="#262626" stroke-width="1.5">10</text>
<text transform="translate(189.2 1666.2) scale(0.96 1)" font-size="43.8" fill="#262626" stroke="#262626" stroke-width="1.3">4</text>
<text transform="translate(188.9 2176.2) scale(0.94 1)" font-size="54.5" text-anchor="end" fill="#262626" stroke="#262626" stroke-width="1.5">10</text>
<text transform="translate(189.2 2148.6) scale(0.96 1)" font-size="43.8" fill="#262626" stroke="#262626" stroke-width="1.3">3</text>
<text transform="translate(188.9 2657.7) scale(0.94 1)" font-size="54.5" text-anchor="end" fill="#262626" stroke="#262626" stroke-width="1.5">10</text>
<text transform="translate(189.2 2630.1) scale(0.96 1)" font-size="43.8" fill="#262626" stroke="#262626" stroke-width="1.3">2</text>
<text transform="translate(231.7 2893.8) scale(0.97 1)" font-size="52.4" text-anchor="middle" fill="#262626" stroke="#262626" stroke-width="1.5"><tspan dy="-1.5">−</tspan><tspan dy="1.5">10</tspan></text>
<text transform="translate(379 2893.8) scale(0.97 1)" font-size="52.4" text-anchor="middle" fill="#262626" stroke="#262626" stroke-width="1.5"><tspan dy="-1.5">−</tspan><tspan dy="1.5">8</tspan></text>
<text transform="translate(526.3 2893.8) scale(0.97 1)" font-size="52.4" text-anchor="middle" fill="#262626" stroke="#262626" stroke-width="1.5"><tspan dy="-1.5">−</tspan><tspan dy="1.5">6</tspan></text>
<text transform="translate(673.6 2893.8) scale(0.97 1)" font-size="52.4" text-anchor="middle" fill="#262626" stroke="#262626" stroke-width="1.5"><tspan dy="-1.5">−</tspan><tspan dy="1.5">4</tspan></text>
<text transform="translate(820.9 2893.8) scale(0.97 1)" font-size="52.4" text-anchor="middle" fill="#262626" stroke="#262626" stroke-width="1.5"><tspan dy="-1.5">−</tspan><tspan dy="1.5">2</tspan></text>
<text transform="translate(970 2893.8) scale(0.97 1)" font-size="52.4" text-anchor="middle" fill="#262626" stroke="#262626" stroke-width="1.5">0</text>
<text transform="translate(1117.3 2893.8) scale(0.97 1)" font-size="52.4" text-anchor="middle" fill="#262626" stroke="#262626" stroke-width="1.5">2</text>
<text transform="translate(1264.6 2893.8) scale(0.97 1)" font-size="52.4" text-anchor="middle" fill="#262626" stroke="#262626" stroke-width="1.5">4</text>
<text transform="translate(1411.9 2893.8) scale(0.97 1)" font-size="52.4" text-anchor="middle" fill="#262626" stroke="#262626" stroke-width="1.5">6</text>
<text transform="translate(1559.2 2893.8) scale(0.97 1)" font-size="52.4" text-anchor="middle" fill="#262626" stroke="#262626" stroke-width="1.5">8</text>
<text transform="translate(1706.5 2893.8) scale(0.97 1)" font-size="52.4" text-anchor="middle" fill="#262626" stroke="#262626" stroke-width="1.5">10</text>
<text x="969.9" y="2973.2" font-size="60" text-anchor="middle" fill="#262626" stroke="#262626" stroke-width="1.5">SNR(dB)</text>
<text transform="translate(107.7 2248.7) rotate(-90)" font-size="60" text-anchor="middle" fill="#262626" stroke="#262626" stroke-width="1.5">RMSE(m)</text>
<text y="3087.7" font-size="79" fill="#000" stroke="none"><tspan x="492.5" textLength="207.3" lengthAdjust="spacingAndGlyphs">RMSE</tspan><tspan x="718.5" textLength="65.4" lengthAdjust="spacingAndGlyphs">of</tspan><tspan x="802.4" textLength="210.8" lengthAdjust="spacingAndGlyphs">height</tspan><tspan x="1030.3" textLength="349.8" lengthAdjust="spacingAndGlyphs">estimation</tspan></text>
</g>
</svg></body></html>
